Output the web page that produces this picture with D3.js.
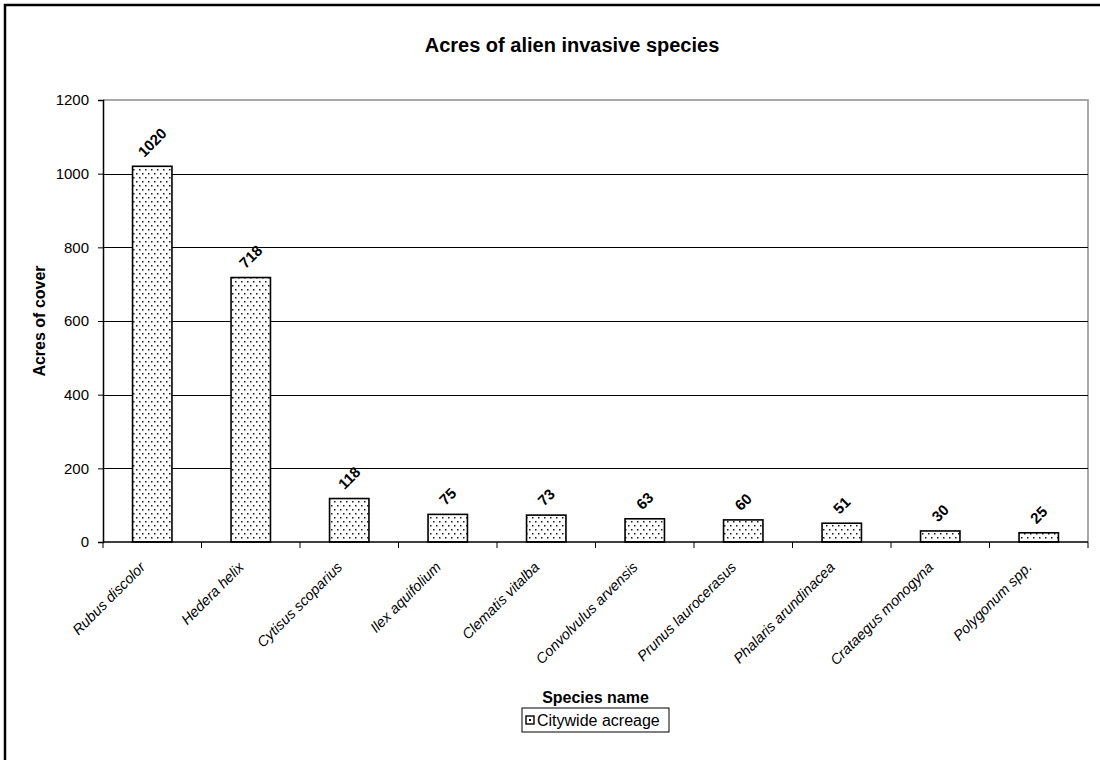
<!DOCTYPE html>
<html><head><meta charset="utf-8">
<script src="https://cdn.jsdelivr.net/npm/d3@7"></script>
<style>body{margin:0;background:#fff}svg{display:block;font-family:"Liberation Sans",Arial,sans-serif}</style>
</head><body><svg id="c" width="1100" height="760"></svg>
<script>
const species = ["Rubus discolor","Hedera helix","Cytisus scoparius","Ilex aquifolium","Clematis vitalba","Convolvulus arvensis","Prunus laurocerasus","Phalaris arundinacea","Crataegus monogyna","Polygonum spp."];
const acreage = [1020,718,118,75,73,63,60,51,30,25];
const yTicks = [0,200,400,600,800,1000,1200];
const seriesName = "Citywide acreage";
const titleText = "Acres of alien invasive species";
const xTitle = "Species name";
const yTitle = "Acres of cover";

const svg = d3.select("#c");
const L = 103, R = 1088, T = 100, B = 542;

const defs = svg.append("defs");
const pat = defs.append("pattern").attr("id","dots").attr("patternUnits","userSpaceOnUse")
  .attr("width",6).attr("height",8);
pat.append("rect").attr("width",6).attr("height",8).attr("fill","#fff");
pat.append("rect").attr("x",1).attr("y",1).attr("width",1.5).attr("height",1.5).attr("fill","#1a1a1a");
pat.append("rect").attr("x",4).attr("y",5).attr("width",1.5).attr("height",1.5).attr("fill","#1a1a1a");

// outer frame
svg.append("rect").attr("x",5).attr("y",5).attr("width",1200).attr("height",900)
  .attr("fill","none").attr("stroke","#000").attr("stroke-width",2.5);

const x = d3.scaleBand().domain(species).range([L,R]).paddingInner(0.6).paddingOuter(0.3);
const xb = d3.scaleBand().domain(species).range([L,R]);
const y = d3.scaleLinear().domain([0,1200]).range([B,T]);

// plot frame (gray top/right)
svg.append("path").attr("d",`M${L},${T}H${R}V${B}`).attr("fill","none").attr("stroke","#8c8c8c").attr("stroke-width",1.5);

// gridlines
svg.append("g").selectAll("line").data(yTicks.filter(d=>d>0 && d<1200)).join("line")
  .attr("x1",L).attr("x2",R).attr("y1",d=>Math.round(y(d))+0.5).attr("y2",d=>Math.round(y(d))+0.5)
  .attr("stroke","#000").attr("stroke-width",1);

// bars
svg.append("g").selectAll("rect").data(acreage).join("rect")
  .attr("x",(d,i)=>x(species[i])).attr("width",x.bandwidth())
  .attr("y",d=>y(d)).attr("height",d=>B-y(d))
  .attr("fill","url(#dots)").attr("stroke","#000").attr("stroke-width",1.6);

// y axis
const ya = svg.append("g").attr("transform",`translate(${L},0)`)
  .call(d3.axisLeft(y).tickValues(yTicks).tickSize(5).tickPadding(9).tickFormat(d3.format("d")));
ya.select(".domain").attr("stroke","#000").attr("stroke-width",1.5);
ya.selectAll("text").attr("font-size",15).attr("fill","#000").attr("font-family","Liberation Sans, Arial");

// x axis
const xa = svg.append("g").attr("transform",`translate(0,${B})`);
xa.append("line").attr("x1",L).attr("x2",R).attr("y1",0).attr("y2",0).attr("stroke","#000").attr("stroke-width",1.5);
xa.selectAll("line.t").data(species.concat(["__end"])).join("line").attr("class","t")
  .attr("x1",(d,i)=>L+i*xb.bandwidth()).attr("x2",(d,i)=>L+i*xb.bandwidth())
  .attr("y1",0).attr("y2",6).attr("stroke","#000");
xa.selectAll("text").data(species).join("text")
  .attr("transform",d=>`translate(${xb(d)+xb.bandwidth()/2-6},${26}) rotate(-45)`)
  .attr("text-anchor","end").attr("font-size",14.5).attr("font-style","italic").attr("fill","#000")
  .text(d=>d);

// value labels
const vl = svg.append("g").selectAll("text").data(acreage).join("text")
  .attr("text-anchor","middle").attr("dy","0.35em")
  .attr("font-size",15).attr("font-weight","bold").attr("fill","#000")
  .text(d=>d);
vl.each(function(d,i){
  const w = this.getComputedTextLength();
  const cx = x(species[i])+x.bandwidth()/2;
  const cy = y(d) - 12 - w*0.354;
  d3.select(this).attr("transform",`translate(${cx},${cy}) rotate(-45)`);
});

// titles
svg.append("text").attr("x",572).attr("y",52).attr("text-anchor","middle")
  .attr("font-size",20).attr("font-weight","bold").text(titleText);
svg.append("text").attr("x",(L+R)/2).attr("y",703).attr("text-anchor","middle")
  .attr("font-size",16).attr("font-weight","bold").text(xTitle);
svg.append("text").attr("transform",`translate(45,${(T+B)/2}) rotate(-90)`).attr("text-anchor","middle")
  .attr("font-size",16).attr("font-weight","bold").text(yTitle);

// legend
const lg = svg.append("g").attr("transform","translate(522,708)");
lg.append("rect").attr("x",0).attr("y",0).attr("width",147).attr("height",24)
  .attr("fill","#fff").attr("stroke","#000").attr("stroke-width",1);
lg.append("rect").attr("x",4).attr("y",8).attr("width",8).attr("height",8)
  .attr("fill","#fff").attr("stroke","#000").attr("stroke-width",1.4);
lg.append("rect").attr("x",7).attr("y",11).attr("width",2).attr("height",2).attr("fill","#000");
lg.append("text").attr("x",15).attr("y",18).attr("font-size",16).text(seriesName);
</script></body></html>
